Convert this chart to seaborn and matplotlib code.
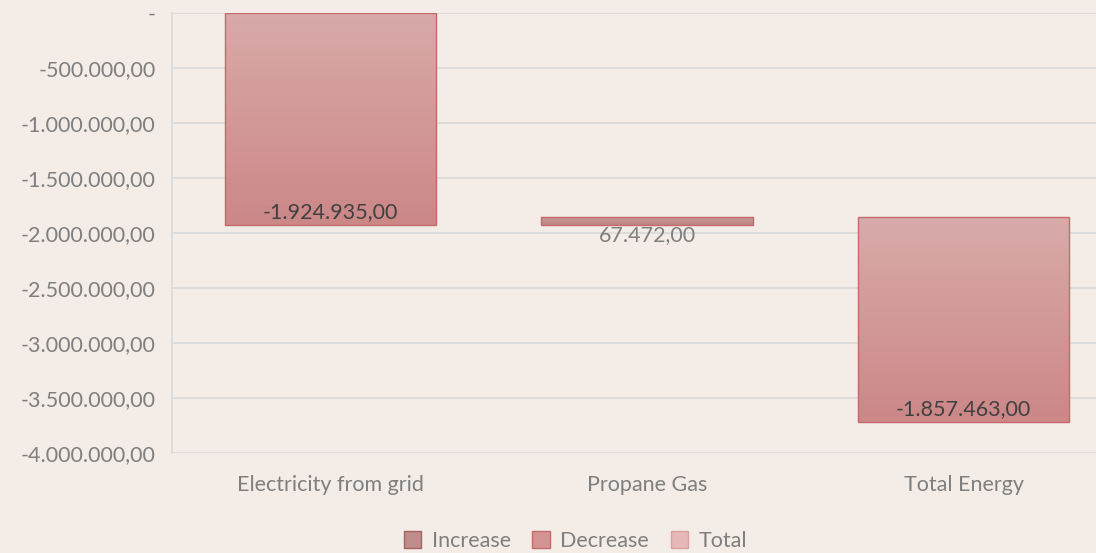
import matplotlib.pyplot as plt
import matplotlib.patches as mpatches
from matplotlib.colors import LinearSegmentedColormap
import numpy as np
import seaborn as sns

# Data
categories = ["Electricity from grid", "Propane Gas", "Total Energy"]
values = [-1924935, 67472, -1857463]
kinds = ["Decrease", "Increase", "Total"]
y_ticks = [0, -500000, -1000000, -1500000, -2000000, -2500000,
           -3000000, -3500000, -4000000]


def fmt(v):
    if v == 0:
        return "-"
    s = f"{v:,.2f}"
    return s.replace(",", "X").replace(".", ",").replace("X", ".")


def generate_graph():
    sns.set_theme(style="white")
    plt.rcParams["font.family"] = ["Lato", "DejaVu Sans"]
    bg = "#F3ECE7"
    fs = 15.5

    # waterfall: running start of each bar
    bottoms = []
    running = 0
    for v, k in zip(values, kinds):
        bottoms.append(running)
        running += v
    # the total bar starts at the running end, as in the source chart
    bottoms[2] = bottoms[1] + values[1]

    fig = plt.figure(figsize=(10.96, 5.53), dpi=100, facecolor=bg)
    ax = fig.add_axes([0.1572, 0.1808, 0.8663, 0.7957])
    ax.set_facecolor(bg)

    sns.barplot(x=categories, y=values, ax=ax, width=0.667, color="#D09090",
                edgecolor="#C46A6A", linewidth=1.0)

    grads = {
        "Decrease": ("#D9AAAA", "#CC8787"),
        "Increase": ("#C89999", "#BE8585"),
        "Total": ("#D9AAAA", "#CC8787"),
    }
    bars = sorted(ax.patches, key=lambda p: p.get_x())
    for p, b, v, k in zip(bars, bottoms, values, kinds):
        p.set_y(b)
        p.set_height(v)
        top_c, bot_c = grads[k]
        cmap = LinearSegmentedColormap.from_list(k, [top_c, bot_c])
        x0 = p.get_x()
        w = p.get_width()
        lo, hi = min(b, b + v), max(b, b + v)
        img = ax.imshow(np.linspace(0, 1, 256).reshape(-1, 1), cmap=cmap,
                        extent=[x0, x0 + w, lo, hi], origin="upper",
                        aspect="auto", zorder=1.5)
        img.set_clip_path(p)
        p.set_facecolor("none")
        p.set_zorder(2)

    # value labels
    for i, (b, v, k) in enumerate(zip(bottoms, values, kinds)):
        end = min(b, b + v)
        if v < 0:
            ax.annotate(fmt(v), (i, end), xytext=(0, 2), textcoords="offset points",
                        ha="center", va="bottom", fontsize=fs, color="#404040", zorder=3)
        else:
            ax.annotate(fmt(v), (i, end), xytext=(0, 0), textcoords="offset points",
                        ha="center", va="top", fontsize=fs, color="#7F7F7F", zorder=3)

    ax.set_xlim(-0.5, 2.5)
    ax.set_ylim(-4000000, 0)
    ax.set_yticks(y_ticks)
    ax.set_yticklabels([fmt(t) for t in y_ticks])
    ax.grid(axis="y", color="#D9D9D9", linewidth=1.2)
    ax.set_axisbelow(True)
    for s in ["top", "right", "bottom"]:
        ax.spines[s].set_visible(False)
    ax.spines["left"].set_color("#D9D9D9")
    ax.spines["left"].set_linewidth(1.2)
    ax.tick_params(axis="y", length=0, pad=12, labelsize=fs, labelcolor="#7F7F7F")
    ax.tick_params(axis="x", length=0, pad=16, labelsize=fs, labelcolor="#7F7F7F")
    ax.set_xlabel("")
    ax.set_ylabel("")

    handles = [
        mpatches.Patch(facecolor="#BF8C8C", edgecolor="#A86060", label="Increase"),
        mpatches.Patch(facecolor="#D49494", edgecolor="#C46A6A", label="Decrease"),
        mpatches.Patch(facecolor="#E6B8B8", edgecolor="#DDA0A0", label="Total"),
    ]
    fig.legend(handles=handles, loc="center", bbox_to_anchor=(0.525, 0.022),
               ncol=3, frameon=False, fontsize=fs, handlelength=0.8,
               handleheight=0.8, handletextpad=0.5, columnspacing=1.0,
               labelcolor="#7F7F7F")

    fig.savefig("out.png", dpi=100, facecolor=bg)


if __name__ == "__main__":
    generate_graph()
